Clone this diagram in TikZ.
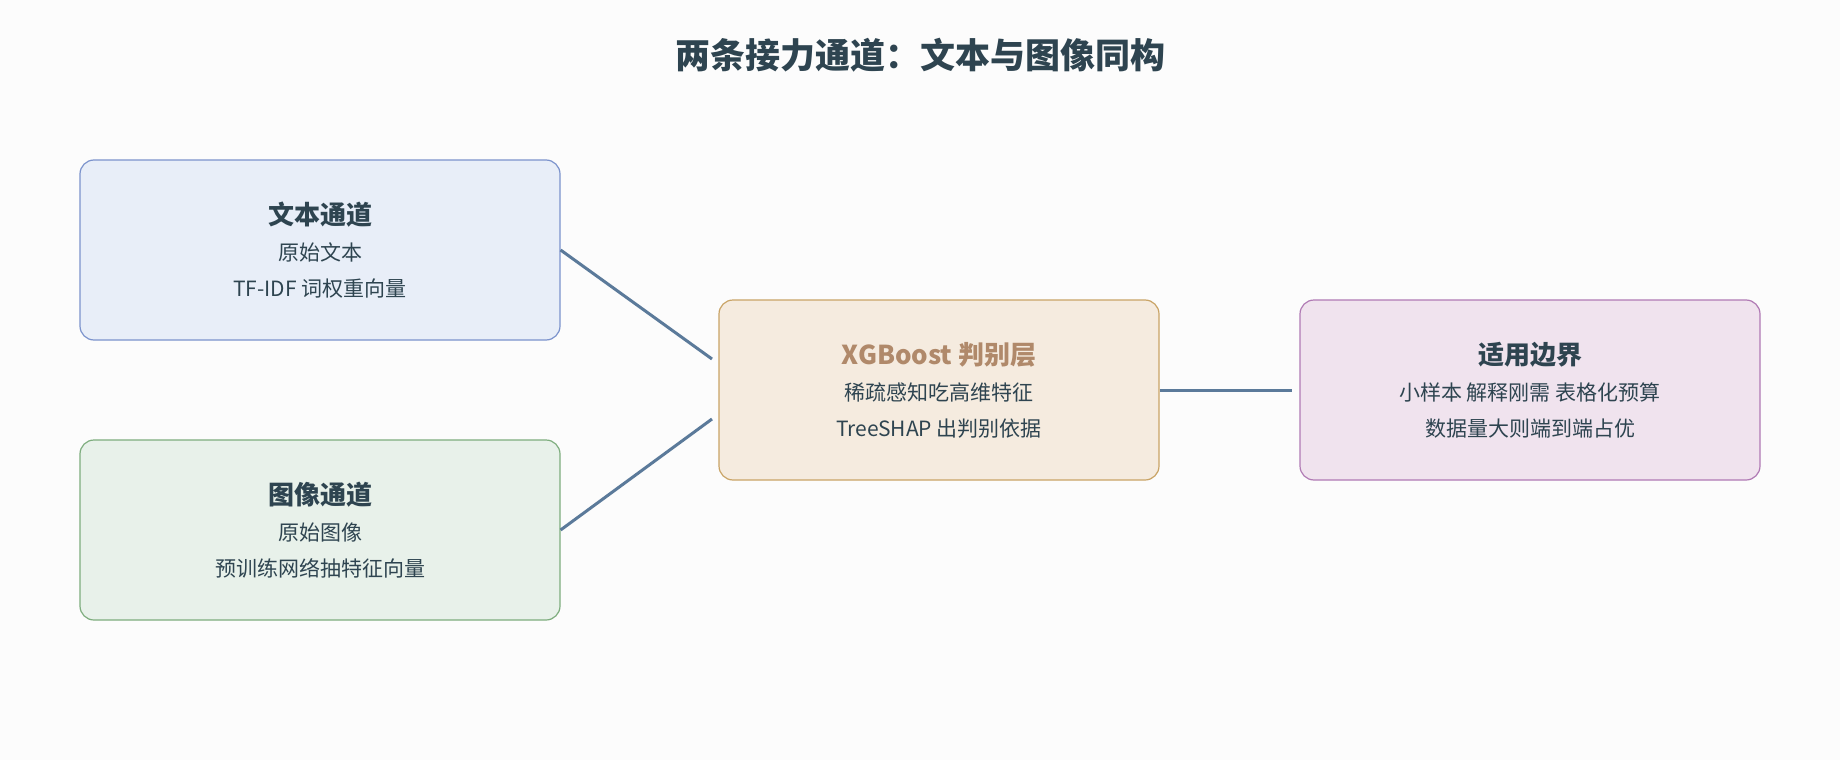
\documentclass[tikz,border=0pt]{standalone}
\usepackage{fontspec}
\setmainfont{Noto Sans CJK SC}
\usepackage{tikz}
\definecolor{ink}{HTML}{2E4450}
\definecolor{wire}{HTML}{5B7A9A}
\definecolor{txtfill}{HTML}{E8EEF8}\definecolor{txtline}{HTML}{7B93CC}
\definecolor{imgfill}{HTML}{E8F1EA}\definecolor{imgline}{HTML}{7EAD7E}
\definecolor{corefill}{HTML}{F5EBDF}\definecolor{coreline}{HTML}{C9A466}
\definecolor{corehead}{HTML}{B0896A}
\definecolor{scopefill}{HTML}{F0E3EE}\definecolor{scopeline}{HTML}{B07AB4}
\newcommand\boxhead[1]{{\fontsize{26}{36}\selectfont\bfseries #1}}
\tikzset{
  box/.style={draw, rounded corners=14pt, line width=1.2pt, minimum width=480pt, minimum height=180pt, align=center, text=ink, font=\fontsize{21}{36}\selectfont}
}

\begin{document}
\begin{tikzpicture}[x=1pt,y=-1pt]
  % Canvas
  \fill[white!99!black] (0,0) rectangle (1840,760);
  \node[text=ink, font=\fontsize{35}{40}\selectfont\bfseries] (title) at (920,55) {两条接力通道：文本与图像同构};

  % Input channels
  \node[box, fill=txtfill, draw=txtline] (txt) at (320,250)
    {\boxhead{文本通道}\\原始文本\\TF-IDF 词权重向量};
  \node[box, fill=imgfill, draw=imgline] (img) at (320,530)
    {\boxhead{图像通道}\\原始图像\\预训练网络抽特征向量};

  % Classifier and scope
  \node[box, minimum width=440pt, fill=corefill, draw=coreline] (core) at (939,390)
    {\boxhead{\color{corehead}XGBoost 判别层}\\稀疏感知吃高维特征\\TreeSHAP 出判别依据};
  \node[box, minimum width=460pt, fill=scopefill, draw=scopeline] (scope) at (1530,390)
    {\boxhead{适用边界}\\小样本 解释刚需 表格化预算\\数据量大则端到端占优};

  % Connectors
  \coordinate (tin) at (712,359);
  \coordinate (iin) at (712,419);
  \coordinate (sin) at (1292,390);
  \draw[wire, line width=3pt] (txt.east) -- (tin);
  \draw[wire, line width=3pt] (img.east) -- (iin);
  \draw[wire, line width=3pt] (core.east) -- (sin);
\end{tikzpicture}
\end{document}
